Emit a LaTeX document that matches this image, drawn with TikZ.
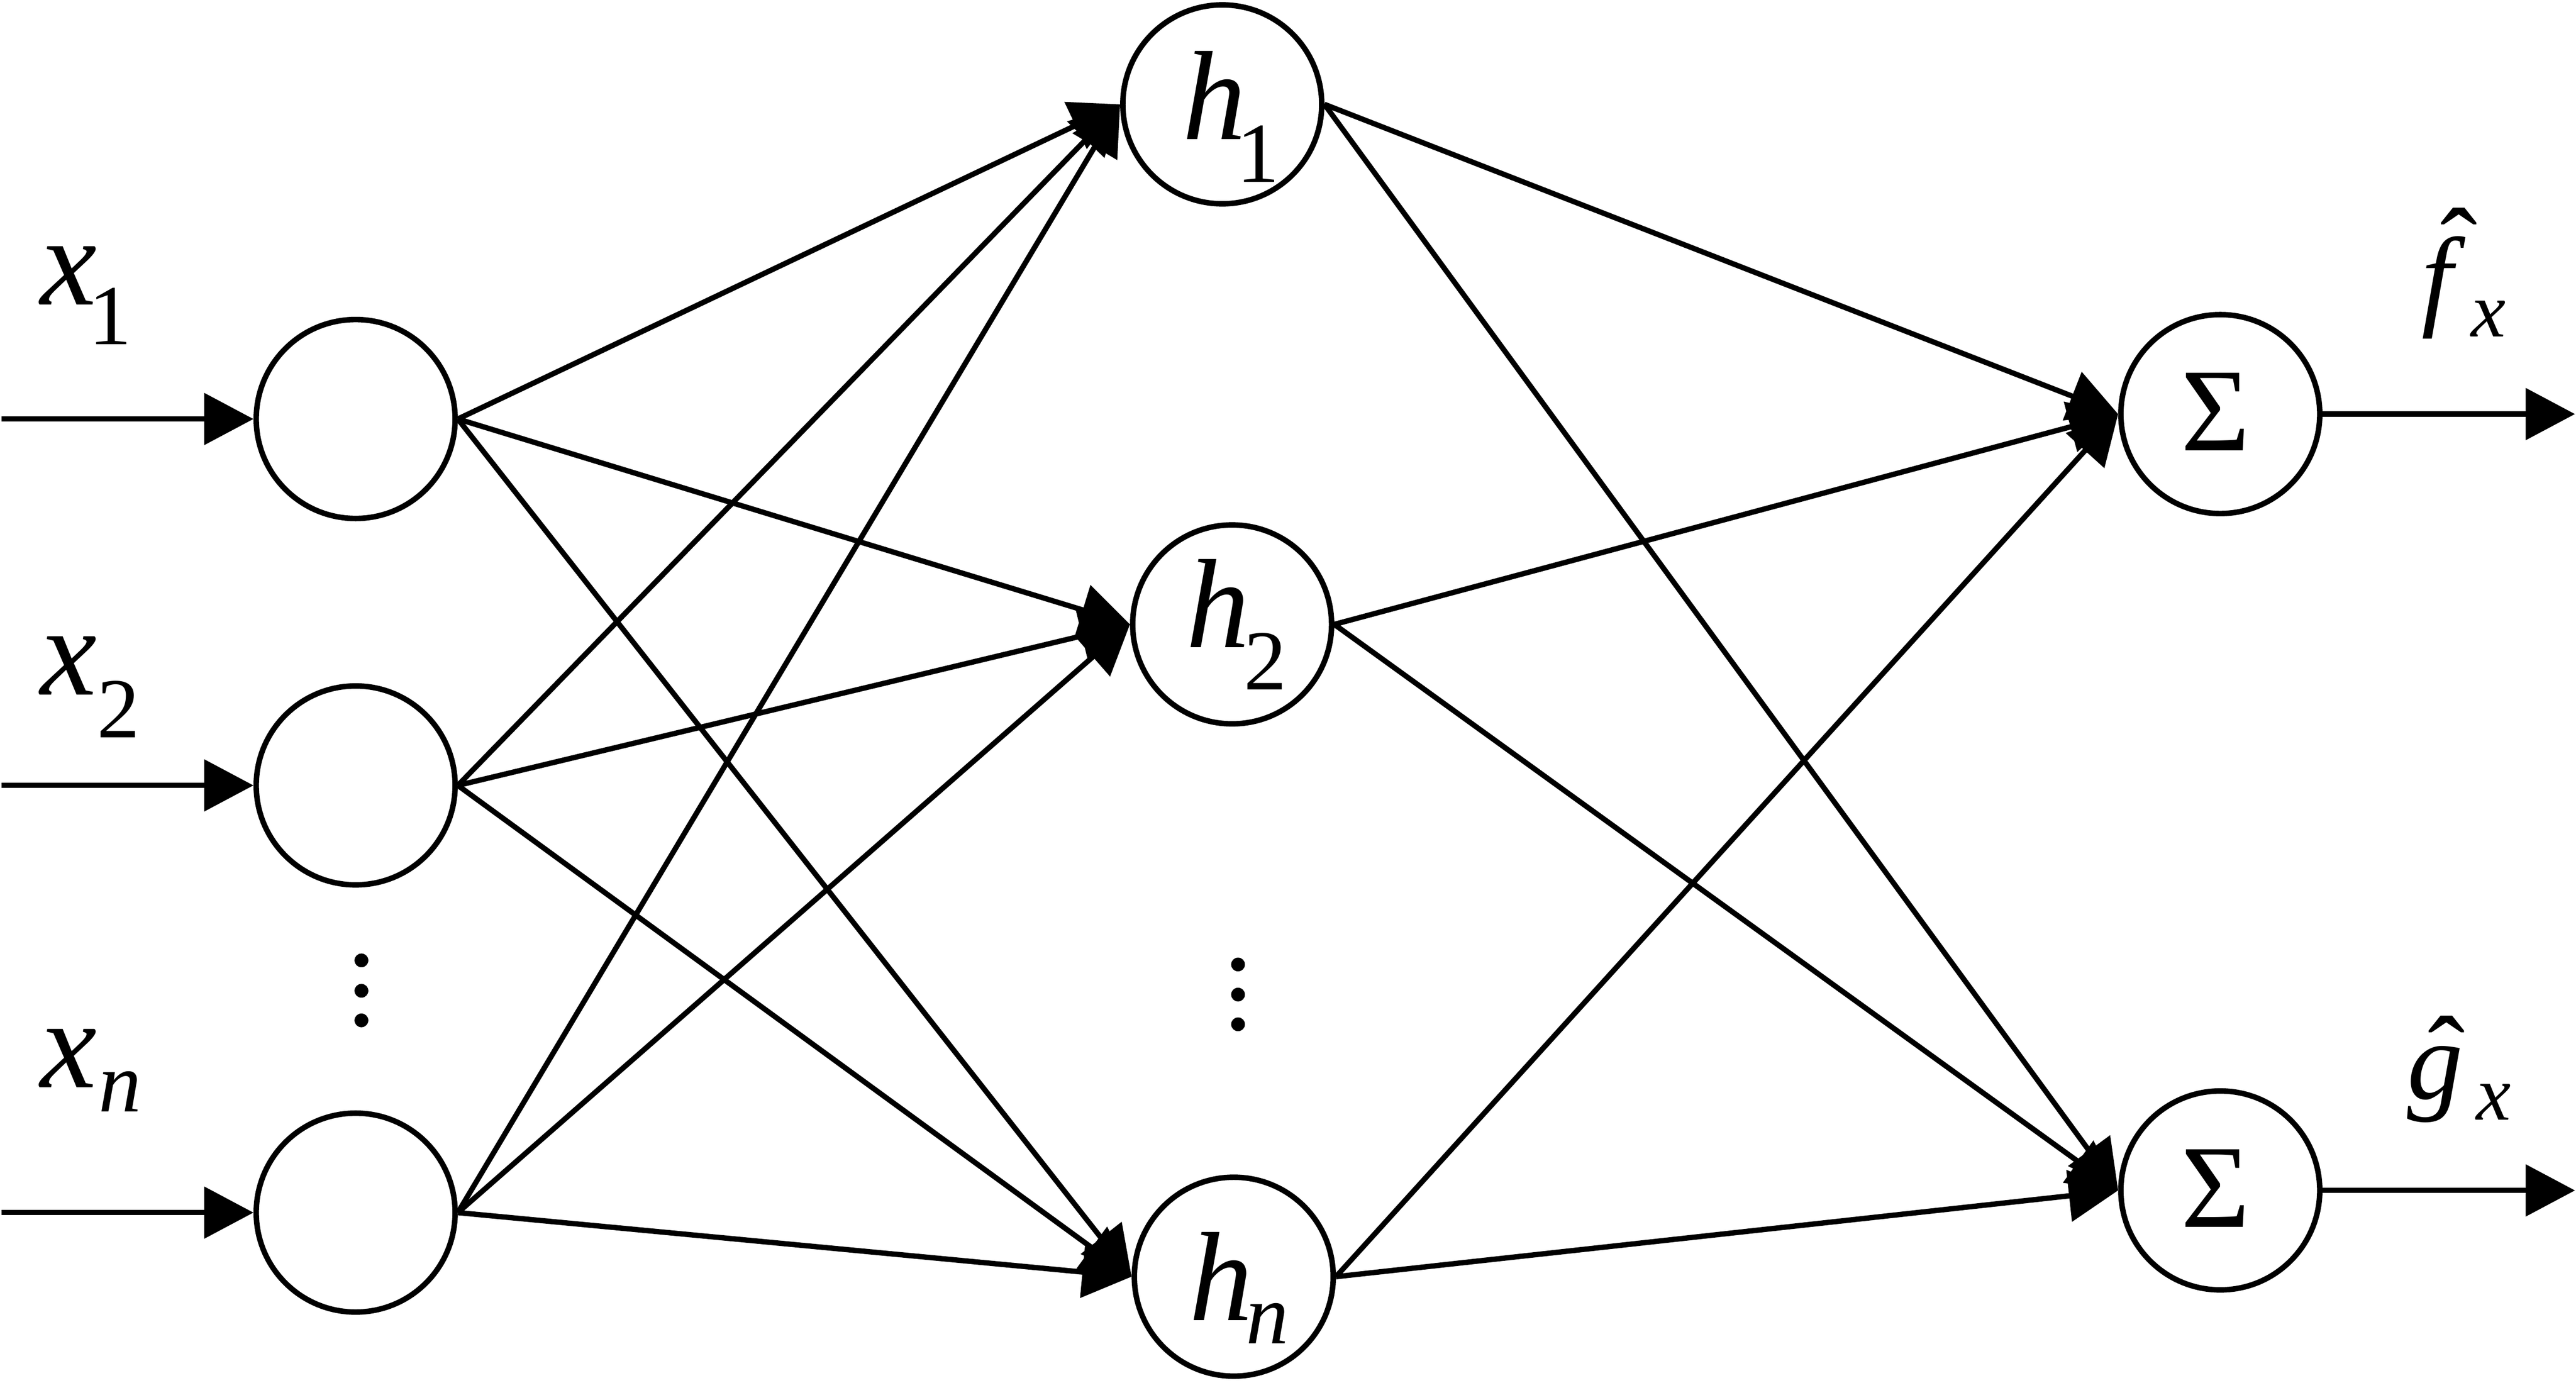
\documentclass[tikz,border=0pt]{standalone}
\usepackage{fontspec}
\setmainfont{Liberation Serif}
\usetikzlibrary{arrows.meta}
\begin{document}
\begin{tikzpicture}[x=0.01cm,y=-0.01cm,
  neuron/.style={circle,draw,line width=0.95pt,minimum size=1.21cm,inner sep=0pt},
  conn/.style={line width=0.92pt,-{Triangle[length=0.30cm,width=0.31cm]}},
  mainit/.style={anchor=base west,inner sep=0pt,font=\fontsize{22}{26}\selectfont\itshape},
  outit/.style={anchor=base west,inner sep=0pt,font=\fontsize{19.35}{23}\selectfont\itshape},
  sig/.style={anchor=base,inner sep=0pt,font=\fontsize{20.5}{24}\selectfont},
  dotst/.style={fill=black,draw=none}
]
\useasboundingbox (0,0) rectangle (1568,841.4);

% nodes
\node[neuron] (in1) at (216.5,255) {};
\node[neuron] (in2) at (216.5,478) {};
\node[neuron] (in3) at (216.5,738) {};
\node[neuron] (h1) at (744,63.5) {};
\node[neuron] (h2) at (750,380) {};
\node[neuron] (h3) at (751,777) {};
\node[neuron] (s1) at (1351.5,252) {};
\node[neuron] (s2) at (1351.5,724.5) {};

% free ends
\coordinate (a1) at (1,255);
\coordinate (a2) at (1,478);
\coordinate (a3) at (1,738);
\coordinate (o1) at (1567.4,252);
\coordinate (o2) at (1567.4,724.5);

% input arrows
\draw[conn] (a1) -- (in1.west);
\draw[conn] (a2) -- (in2.west);
\draw[conn] (a3) -- (in3.west);

% input -> hidden
\foreach \i in {in1,in2,in3}{
  \foreach \j in {h1,h2,h3}{
    \draw[conn] (\i.east) -- (\j.west);
  }
}
% hidden -> sum
\foreach \i in {h1,h2,h3}{
  \foreach \j in {s1,s2}{
    \draw[conn] (\i.east) -- (\j.west);
  }
}
% outputs
\draw[conn] (s1.east) -- (o1);
\draw[conn] (s2.east) -- (o2);

% input labels
\node[mainit] (lx1) at (24,185.4) {x\kern-0.05cm\raisebox{-0.241cm}{\fontsize{14.8}{18}\selectfont\upshape 1}};
\node[mainit] (lx2) at (24,423) {x\kern0cm\raisebox{-0.258cm}{\fontsize{14.8}{18}\selectfont\upshape 2}};
\node[mainit] (lx3) at (24,662) {x\kern0.01cm\raisebox{-0.145cm}{\fontsize{14.8}{18}\selectfont n}};

% hidden labels
\node[mainit] (lh1) at (719.3,84.7) {h\kern-0.06cm\raisebox{-0.26cm}{\fontsize{14.8}{18}\selectfont\upshape 1}};
\node[mainit] (lh2) at (721.3,394) {h\kern-0.035cm\raisebox{-0.256cm}{\fontsize{14.8}{18}\selectfont\upshape 2}};
\node[mainit] (lh3) at (723.2,803.6) {h\kern-0.04cm\raisebox{-0.14cm}{\fontsize{14.8}{18}\selectfont n}};

% sums
\node[sig] (ls1) at (1348.5,274.2) {Σ};
\node[sig] (ls2) at (1348.5,746.9) {Σ};

% output labels
\node[outit] (lf) at (1473.5,191.7) {\makebox[0pt][l]{\hspace*{0.11cm}\raisebox{0.177cm}[0pt][0pt]{\upshape ˆ}}f\kern0.11cm\raisebox{-0.132cm}{\fontsize{13.5}{16}\selectfont x}};
\node[outit] (lg) at (1464.6,668.7) {\makebox[0pt][l]{\hspace*{0.126cm}\raisebox{0.03cm}[0pt][0pt]{\upshape ˆ}}g\kern0.08cm\raisebox{-0.128cm}{\fontsize{13.5}{16}\selectfont x}};

% vertical dots
\foreach \y in {584.5,603,621}{
  \fill[dotst] (220,\y) circle (4.2);
}
\foreach \y in {587,605.3,623.4}{
  \fill[dotst] (753.6,\y) circle (4.2);
}
\end{tikzpicture}
\end{document}
